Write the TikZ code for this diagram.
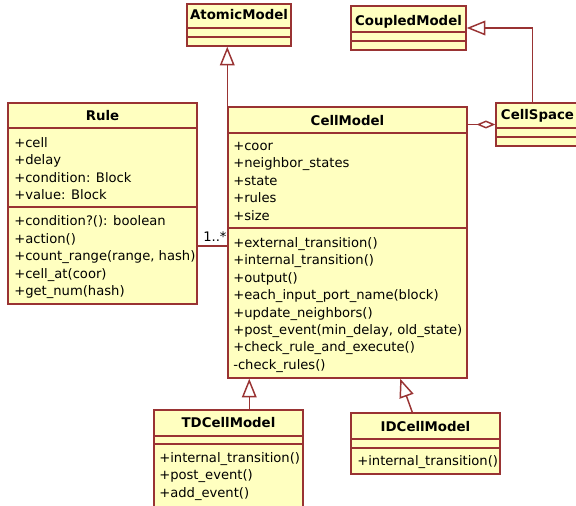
\documentclass[tikz,border=0pt]{standalone}
\usepackage{fontspec}
\setmainfont{DejaVu Sans}
\usepackage{tikz}
\usetikzlibrary{shapes.geometric, arrows, arrows.meta}
\usetikzlibrary{fit,calc}
\usetikzlibrary{positioning}

\definecolor{umlfill}{RGB}{255,255,192}
\definecolor{umlline}{RGB}{153,51,51}

\begin{document}
\begin{tikzpicture}[x=0.75pt,y=0.75pt,yscale=-1,xscale=1]
  \clip (0,0) rectangle (576,506); %picture is 576 wide and 506 high
  \tikzstyle{class} = [draw=umlline, fill=umlfill, line width=1.1pt, inner sep=0pt]
  \tikzstyle{sep} = [draw=umlline, line width=1.1pt]
  \tikzstyle{title} = [font=\fontsize{10}{12}\selectfont\bfseries, anchor=base, inner sep=0pt]
  \tikzstyle{member} = [font=\fontsize{9.85}{12}\selectfont, anchor=base west, inner sep=0pt]
  \tikzstyle{inherit} = [draw=umlline, line width=1.1pt, -{Triangle[open, length=14pt, width=11pt]}]
  \tikzstyle{aggr} = [draw=umlline, line width=1.1pt, {Diamond[open, length=14pt, width=6pt]}-]
  \tikzstyle{assoc} = [draw=umlline, line width=1.1pt]
  %Draw the class boxes
  \node[class, fit={(187,4) (291,46)}] (atomic) {};
  \node[class, fit={(351,6) (466,50)}] (coupled) {};
  \node[class, fit={(496,103) (579,146)}] (space) {};
  \node[class, fit={(8,103) (197,304)}] (rule) {};
  \node[class, fit={(228,107) (467,378)}] (cell) {};
  \node[class, fit={(154,410) (303,512)}] (td) {};
  \node[class, fit={(351,413) (500,474)}] (id) {};
  %Draw the compartment lines
  \draw[sep] (187,28) -- (291,28);  \draw[sep] (187,37) -- (291,37);
  \draw[sep] (351,32) -- (466,32);  \draw[sep] (351,41) -- (466,41);
  \draw[sep] (496,128) -- (579,128);  \draw[sep] (496,137) -- (579,137);
  \draw[sep] (8,128) -- (197,128);  \draw[sep] (8,207) -- (197,207);
  \draw[sep] (228,133) -- (467,133);  \draw[sep] (228,228) -- (467,228);
  \draw[sep] (154,436) -- (303,436);  \draw[sep] (154,444) -- (303,444);
  \draw[sep] (351,439) -- (500,439);  \draw[sep] (351,448) -- (500,448);
  % Label the classes
  \node[title] (atomicT) at (239,19.5) {AtomicModel};
  \node[title] (coupledT) at (408.5,25.5) {CoupledModel};
  \node[title] (spaceT) at (537.5,119.5) {CellSpace};
  \node[title] (ruleT) at (102.5,120.5) {Rule};
  \node[title] (cellT) at (347.5,125.5) {CellModel};
  \node[title] (tdT) at (228.5,427.5) {TDCellModel};
  \node[title] (idT) at (425.5,431.5) {IDCellModel};
  % Members
  \foreach \m [count=\i from 0] in {+cell, +delay, +condition: Block, +value: Block}
    \node[member] (ruleA\i) at (14,{147.5+17.4*\i}) {\m};
  \foreach \m [count=\i from 0] in {+condition?(): boolean, +action(), {+count\_range(range, hash)}, +cell\_at(coor), +get\_num(hash)}
    \node[member] (ruleM\i) at (14,{226+17.4*\i}) {\m};
  \foreach \m [count=\i from 0] in {+coor, +neighbor\_states, +state, +rules, +size}
    \node[member] (cellA\i) at (233,{150.5+17.4*\i}) {\m};
  \foreach \m [count=\i from 0] in {+external\_transition(), +internal\_transition(), +output(), +each\_input\_port\_name(block), +update\_neighbors(), {+post\_event(min\_delay, old\_state)}, +check\_rule\_and\_execute(), -check\_rules()}
    \node[member] (cellM\i) at (233,{247.5+17.4*\i}) {\m};
  \foreach \m [count=\i from 0] in {+internal\_transition(), +post\_event(), +add\_event()}
    \node[member] (tdM\i) at (159,{462.5+17.4*\i}) {\m};
  \node[member] (idM0) at (357,465.5) {+internal\_transition()};
  %Draw the relations
  \draw[inherit] (cell.north west) -- (cell.north west |- atomic.south);
  \coordinate (spacetop) at ($(space.north west)+(37,0)$);
  \draw[inherit] (spacetop) |- (coupled.east);
  \draw[aggr] (space.west) -- (space.west -| cell.east);
  \coordinate (assoc) at (0,246);
  \draw[assoc] (rule.east |- assoc) -- (cell.west |- assoc)
    node[member, anchor=base east, pos=1, yshift=3pt] (mult) {1..*};
  \coordinate (tdtop) at ($(td.north west)+(96,0)$);
  \draw[inherit] (tdtop) -- (tdtop |- cell.south);
  \coordinate (idtop) at ($(id.north west)+(62,0)$);
  \coordinate (idtip) at ($(cell.south west)+(173,0)$);
  \draw[inherit] (idtop) -- (idtip);
\end{tikzpicture}
\end{document}
